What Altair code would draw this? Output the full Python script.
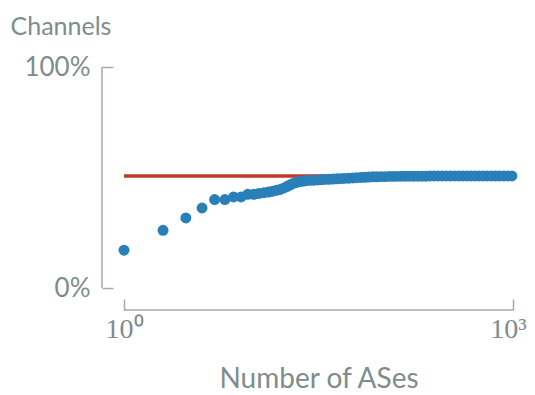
import altair as alt
import pandas as pd

# Number of ASes (x, log scale) and share of channels (y)
n_ases = [1, 2, 3, 4, 5, 6, 7, 8, 9, 10, 11, 12, 13, 14, 15, 16, 17, 18, 19, 20,
          21, 22, 23, 24, 25, 27, 29, 31, 33, 35, 38, 41, 44, 47, 50,
          54, 58, 62, 67, 72, 77, 83, 89, 96, 103,
          111, 119, 128, 138, 148, 159, 171, 184, 198, 213,
          229, 246, 265, 285, 306, 329, 354, 381, 410, 441,
          474, 510, 548, 589, 634, 681, 733, 788, 848, 912, 981]
share = [0.171, 0.261, 0.317, 0.362, 0.400, 0.400, 0.412, 0.412, 0.424, 0.424,
         0.428, 0.431, 0.434, 0.438, 0.442, 0.446, 0.452, 0.459, 0.466, 0.472,
         0.477, 0.480, 0.482, 0.484, 0.485, 0.487, 0.488, 0.489, 0.490, 0.491,
         0.492, 0.493, 0.494, 0.495, 0.496,
         0.497, 0.498, 0.499, 0.500, 0.501, 0.502, 0.503, 0.503, 0.504, 0.504,
         0.505, 0.505, 0.505, 0.506, 0.506, 0.506, 0.506, 0.506, 0.506, 0.506,
         0.507, 0.507, 0.507, 0.507, 0.507, 0.507, 0.507, 0.507, 0.507, 0.507,
         0.507, 0.507, 0.507, 0.507, 0.507, 0.507, 0.507, 0.507, 0.507, 0.507, 0.507]

# Reference line
ref_x = [1, 1000]
ref_y = [0.507, 0.507]

x_ticks = [1, 1000]
y_ticks = [0, 1]

W, H = 389, 221
TEXT = "#7f8c8d"
LINE = "#a3aab0"
BLUE = "#2980b9"
RED = "#c0392b"

pts = pd.DataFrame({"n": n_ases, "share": share})
ref = pd.DataFrame({"n": ref_x, "share": ref_y})

xscale = alt.Scale(type="log", domain=[1, 1000], nice=False)
yscale = alt.Scale(domain=[0, 1], nice=False)

xaxis = alt.Axis(
    values=x_ticks,
    labelExpr="datum.value == 1 ? '10⁰' : '10³'",
    domain=False, grid=False, offset=11, tickSize=11, tickColor=LINE, tickWidth=1.5,
    labelFlush=False, labelBound=False,
    labelOffset={"condition": {"test": "datum.value == 1000", "value": -5}, "value": 0},
    labelPadding=5, labelFont="Liberation Serif", labelFontSize=28, labelColor=TEXT,
    title="Number of ASes", titleFont="Lato", titleFontSize=28,
    titleFontWeight="normal", titleColor=TEXT, titlePadding=22,
)
yaxis = alt.Axis(
    values=y_ticks, format=".0%",
    domain=False, grid=False, offset=11, tickSize=11, tickColor=LINE, tickWidth=1.5,
    labelPadding=12, labelFont="Lato", labelFontSize=26, labelColor=TEXT,
    title="Channels", titleAngle=0, titleAlign="left", titleBaseline="alphabetic",
    titleX=-103, titleY=-33, titleFont="Lato", titleFontSize=25,
    titleFontWeight="normal", titleColor=TEXT,
)

line = alt.Chart(ref).mark_line(color=RED, strokeWidth=3.5).encode(
    x=alt.X("n:Q", scale=xscale, axis=xaxis),
    y=alt.Y("share:Q", scale=yscale, axis=yaxis),
)
points = alt.Chart(pts).mark_circle(size=120, color=BLUE, opacity=1, clip=False).encode(
    x=alt.X("n:Q", scale=xscale),
    y=alt.Y("share:Q", scale=yscale),
)

dom = pd.DataFrame({"k": [0]})
ydom = alt.Chart(dom).mark_rule(color=LINE, strokeWidth=1.5).encode(
    x=alt.value(-22), y=alt.value(0), y2=alt.value(H)
)
xdom = alt.Chart(dom).mark_rule(color=LINE, strokeWidth=1.5).encode(
    x=alt.value(0), x2=alt.value(W), y=alt.value(H + 22)
)

chart = alt.layer(line, points, ydom, xdom).properties(
    width=W, height=H,
    autosize=alt.AutoSizeParams(type="none"),
    padding={"left": 116, "top": 59, "right": 14, "bottom": 104},
    background="white",
).configure_view(strokeWidth=0, stroke=None)

chart.save("out.html", embed_options={"renderer": "svg", "actions": False})
